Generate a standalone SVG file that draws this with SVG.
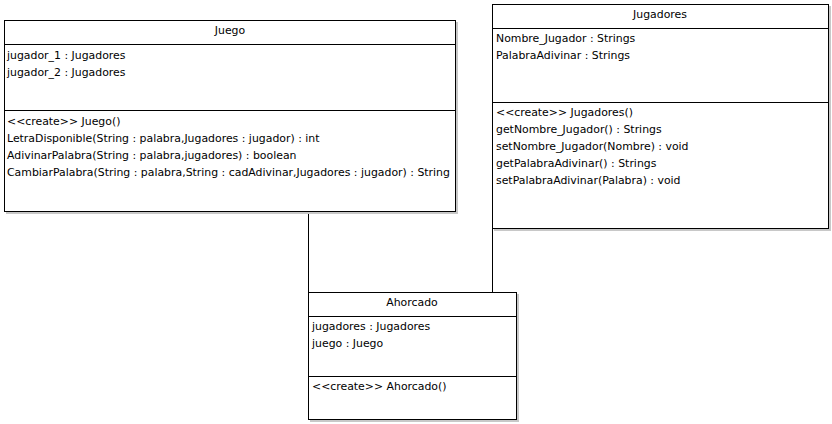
<svg xmlns="http://www.w3.org/2000/svg" width="832" height="424" viewBox="0 0 832 424">
<style>
.box{fill:#fff;stroke:#000;stroke-width:1}
.sh{fill:#c8c8c8}
.ln{stroke:#000;stroke-width:1;fill:none}
text{font-family:"DejaVu Sans",Verdana,sans-serif;font-size:10.9px;fill:#000}
.t{text-anchor:middle}
</style>
<rect width="832" height="424" fill="#fff"/>
<g id="connectors">
<line class="ln" x1="308.5" y1="212" x2="308.5" y2="292"/>
<line class="ln" x1="492.5" y1="228" x2="492.5" y2="292"/>
</g>
<g id="Juego">
<rect class="sh" x="6" y="22" width="452" height="192"/>
<rect class="box" x="4.5" y="20.5" width="451" height="191"/>
<line class="ln" x1="4.5" y1="44.5" x2="455.5" y2="44.5"/>
<line class="ln" x1="4.5" y1="110.5" x2="455.5" y2="110.5"/>
<text class="t" x="230" y="34">Juego</text>
<text x="7" y="59">jugador_1 : Jugadores</text>
<text x="7" y="76">jugador_2 : Jugadores</text>
<text x="7" y="125">&lt;&lt;create&gt;&gt; Juego()</text>
<text x="7" y="142">LetraDisponible(String : palabra,Jugadores : jugador) : int</text>
<text x="7" y="159">AdivinarPalabra(String : palabra,jugadores) : boolean</text>
<text x="7" y="176">CambiarPalabra(String : palabra,String : cadAdivinar,Jugadores : jugador) : String</text>
</g>
<g id="Jugadores">
<rect class="sh" x="494" y="6" width="337" height="225"/>
<rect class="box" x="492.5" y="4.5" width="336" height="224"/>
<line class="ln" x1="492.5" y1="28.5" x2="828.5" y2="28.5"/>
<line class="ln" x1="492.5" y1="102.5" x2="828.5" y2="102.5"/>
<text class="t" x="660" y="18">Jugadores</text>
<text x="496" y="42">Nombre_Jugador : Strings</text>
<text x="496" y="59">PalabraAdivinar : Strings</text>
<text x="496" y="116">&lt;&lt;create&gt;&gt; Jugadores()</text>
<text x="496" y="133">getNombre_Jugador() : Strings</text>
<text x="496" y="150">setNombre_Jugador(Nombre) : void</text>
<text x="496" y="167">getPalabraAdivinar() : Strings</text>
<text x="496" y="184">setPalabraAdivinar(Palabra) : void</text>
</g>
<g id="Ahorcado">
<rect class="sh" x="310" y="294" width="209" height="128"/>
<rect class="box" x="308.5" y="292.5" width="208" height="127"/>
<line class="ln" x1="308.5" y1="316.5" x2="516.5" y2="316.5"/>
<line class="ln" x1="308.5" y1="376.5" x2="516.5" y2="376.5"/>
<text class="t" x="412" y="306">Ahorcado</text>
<text x="312" y="330">jugadores : Jugadores</text>
<text x="312" y="347">juego : Juego</text>
<text x="312" y="390">&lt;&lt;create&gt;&gt; Ahorcado()</text>
</g>
</svg>
